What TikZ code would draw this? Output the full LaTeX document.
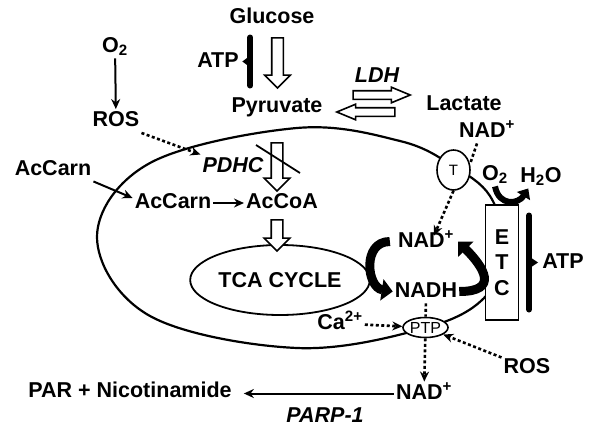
\documentclass[tikz,border=0pt]{standalone}
\usepackage{fontspec}
\setmainfont{Liberation Sans}
\usetikzlibrary{shapes.geometric, shapes.arrows, arrows.meta, positioning}
\tikzstyle{lbl} = [font=\fontsize{21.5}{25}\selectfont\bfseries, text height=15.5pt, text depth=4pt, inner sep=2pt]
\tikzstyle{enz} = [lbl, font=\fontsize{21.5}{25}\selectfont\bfseries\itshape]
\tikzstyle{fatarrow} = [single arrow, draw=black, fill=white, line width=1.6pt, inner xsep=0pt, inner ysep=5pt, single arrow head extend=7pt, single arrow tip angle=90, single arrow head indent=0pt]
\tikzstyle{thinfat} = [fatarrow, inner ysep=3.5pt, single arrow head extend=3.5pt, single arrow tip angle=45]
\tikzstyle{arrow} = [line width=2pt, -{Stealth[length=10pt, width=9pt]}]
\tikzstyle{dots} = [line width=2.6pt, dash pattern=on 3pt off 2.5pt]
\tikzstyle{dotarrow} = [dots, -{Stealth[length=10pt, width=9pt]}]
\tikzstyle{curl} = [line width=9pt, -{Triangle[length=11pt, width=21pt]}]
\tikzstyle{bar} = [line width=6pt, line cap=round]
\tikzstyle{membrane} = [line width=2.2pt]
\tikzstyle{pore} = [ellipse, draw, fill=white, line width=1.6pt, inner sep=0pt]

\begin{document}
\begin{tikzpicture}[x=1pt, y=-1pt]
\useasboundingbox (0,0) rectangle (600,431);
\draw [membrane] plot [smooth cycle, tension=0.6] coordinates {(97,237) (150,163) (297,128) (400,141) (453,166) (490,196) (503,245) (486,296) (425,328) (297,348) (150,316)};

\node (glucose) [lbl] at (272,17.5) {Glucose};
\node (atp1) [lbl] at (218,61.5) {ATP};
\node (pyruvate) [lbl] at (277,107) {Pyruvate};
\node (o2a) [lbl] at (115,46.5) {O\textsubscript{2}};
\node (ros1) [lbl] at (116,121) {ROS};
\node (pdhc) [enz] at (233,166.5) {PDHC};
\node (acc1) [lbl] at (53,169.5) {AcCarn};
\node (acc2) [lbl] at (173,203) {AcCarn};
\node (accoa) [lbl] at (282,203) {AcCoA};
\node (tca) [ellipse, draw, line width=1.8pt, minimum width=170pt, minimum height=70pt, inner sep=0pt, lbl, text depth=0pt] at (280,280) {TCA CYCLE};
\node (ldh) [enz] at (377,77) {LDH};
\node (lactate) [lbl] at (464,104.5) {Lactate};
\node (nadT) [lbl] at (487,131.5) {NAD\textsuperscript{+}};
\node (tcirc) [pore, minimum width=33pt, minimum height=40pt, font=\fontsize{15}{17}\selectfont] at (453.5,170) {T};
\node (o2b) [lbl] at (495,174.5) {O\textsubscript{2}};
\node (h2o) [lbl] at (541,176.5) {H\textsubscript{2}O};
\node (nad1) [lbl] at (426,241.5) {NAD\textsuperscript{+}};
\node (nadh) [lbl] at (426,291.5) {NADH};
\node (etc) [rectangle, draw, fill=white, line width=1.6pt, minimum width=33pt, minimum height=115pt, inner sep=0pt, align=center, font=\fontsize{21.5}{25.5}\selectfont\bfseries] at (502,262.5) {E\\T\\C};
\node (atp2) [lbl] at (563,262.5) {ATP};
\node (ptp) [pore, minimum width=45pt, minimum height=20pt, font=\fontsize{16}{17}\selectfont] at (425.5,327.5) {PTP};
\node (ca) [lbl] at (340,323.5) {Ca\textsuperscript{2+}};
\node (ros2) [lbl] at (527,367.5) {ROS};
\node (nad2) [lbl] at (424,393.5) {NAD\textsuperscript{+}};
\node (par) [lbl] at (130,391.5) {PAR + Nicotinamide};
\node (parp) [enz] at (325,416.5) {PARP-1};

\node (glyc) [fatarrow, rotate=-90, minimum height=50pt] at (277.5,60) {};
\node (pdh) [fatarrow, rotate=-90, minimum height=48pt] at (277,164) {};
\node (intca) [fatarrow, rotate=-90, minimum height=31pt] at (277,232.5) {};
\node (ldhf) [thinfat, minimum height=57pt] at (376.5,95) {};
\node (ldhb) [thinfat, rotate=180, minimum height=58pt] at (371,112) {};
\draw [line width=1.8pt] ([shift={(-21,-19)}]pdh.center) -- ([shift={(23,9)}]pdh.center);

\draw [bar] ([shift={(9.5,-24)}]atp1.east) -- ([shift={(9.5,24)}]atp1.east);
\fill ([shift={(1.5,0)}]atp1.east) -- ([shift={(9.5,-6)}]atp1.east) -- ([shift={(9.5,6)}]atp1.east) -- cycle;
\draw [bar] ([shift={(-11,-47)}]atp2.west) -- ([shift={(-11,47)}]atp2.west);
\fill ([shift={(-2,0)}]atp2.west) -- ([shift={(-11,-6)}]atp2.west) -- ([shift={(-11,6)}]atp2.west) -- cycle;

\draw [arrow] (o2a) -- (ros1);
\draw [dotarrow] (ros1.south east) -- (pdhc.north west);
\draw [arrow] (acc1.south east) -- ([yshift=5pt]acc2.west);
\draw [arrow] (acc2) -- (accoa);
\draw [dots] ([xshift=-10pt]nadT.south) -- (tcirc.20);
\draw [dotarrow] (tcirc.south) -- ([shift={(8,6)}]nad1.north);
\draw [curl, line width=6pt, -{Triangle[length=9pt, width=15pt]}] (o2b.south) .. controls +(4,20) and +(-10,16) .. ([xshift=10pt]h2o.south west);
\draw [curl] ([xshift=-6pt]nad1.west) .. controls +(-28,0) and +(-26,-4) .. (nadh.west);
\draw [curl] (nadh.east) .. controls +(40,0) and +(26,26) .. ([xshift=2pt]nad1.east);
\draw [dots] (nadh) -- (ptp);
\draw [dotarrow] (ca) -- (ptp);
\draw [dotarrow] (ros2) -- (ptp);
\draw [dotarrow] (ptp) -- (nad2);
\draw [arrow, shorten >=10pt] (nad2.west) -- (par.east |- nad2.west);
\end{tikzpicture}
\end{document}
